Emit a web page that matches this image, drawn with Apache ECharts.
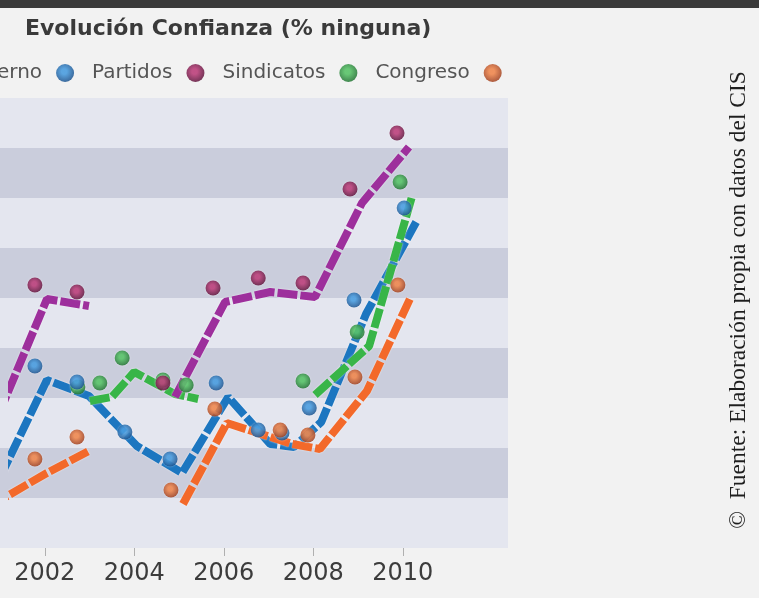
<!DOCTYPE html>
<html><head><meta charset="utf-8">
<script src="https://cdn.jsdelivr.net/npm/echarts@6/dist/echarts.min.js"></script>
<style>html,body{margin:0;padding:0;background:#f2f2f2}#c{width:759px;height:598px}</style>
</head><body><div id="c"></div>
<script>
const seriesNames = ['Gobierno', 'Partidos', 'Sindicatos', 'Congreso'];
const gobierno = [[2000.51, 6.4], [2001.78, 18.2], [2002.72, 16.6], [2003.79, 11.6], [2004.80, 8.9], [2005.83, 16.5], [2006.77, 11.8], [2007.30, 11.5], [2007.91, 14.0], [2008.91, 24.8], [2010.03, 34.0]];
const partidos = [[2000.51, 12.7], [2001.78, 26.3], [2002.72, 25.6], [2003.70, null], [2004.64, 16.5], [2005.76, 26.0], [2006.77, 27.0], [2007.77, 26.5], [2008.82, 35.9], [2009.87, 41.5]];
const sindicatos = [[2002.74, 16.1], [2003.23, 16.5], [2003.73, 19.0], [2004.64, 16.8], [2005.16, 16.3], [2006.50, null], [2007.77, 16.7], [2008.98, 21.6], [2009.94, 36.6]];
const congreso = [[2000.51, 5.6], [2001.78, 8.9], [2002.72, 11.1], [2003.70, null], [2004.82, 5.8], [2005.80, 13.9], [2007.26, 11.8], [2007.88, 11.3], [2008.93, 17.1], [2009.89, 26.3]];
const yearTicks = [2002, 2004, 2006, 2008, 2010];
const titleText = 'Evolución Confianza (% ninguna)';
const sourceText = '©  Fuente: Elaboración propia con datos del CIS';

const allData = [gobierno, partidos, sindicatos, congreso];
const lineColors = ['#1c76c0', '#9d2f9c', '#38b548', '#f3692a'];
const markInner = ['#3592dc', '#b52a6c', '#46bd57', '#ee7a3a'];
const markOuter = ['#0c4584', '#52042e', '#126824', '#973210'];
const markerZ = [12, 11, 10, 13];
const xMin = 2001, xMax = 2012.35, yMin = 0, yMax = 45;

function radial(i) {
  return { type: 'radial', x: 0.45, y: 0.42, r: 0.6,
    colorStops: [{ offset: 0, color: markInner[i] }, { offset: 0.25, color: markInner[i] }, { offset: 1, color: markOuter[i] }] };
}

const series = [];
allData.forEach((d, i) => {
  series.push({
    name: seriesNames[i], type: 'scatter', xAxisIndex: 0, yAxisIndex: 0,
    data: d.filter(p => p[1] !== null), symbol: 'circle', symbolSize: 15, z: markerZ[i],
    itemStyle: { color: radial(i), shadowColor: 'rgba(255,255,255,0.6)', shadowBlur: 2 }
  });
});
const lineOrder = [0, 3, 2, 1];
lineOrder.forEach(i => {
  series.push({
    name: seriesNames[i], type: 'line', xAxisIndex: 1, yAxisIndex: 1, clip: false,
    data: allData[i].map(p => [p[0], p[1] === null ? '-' : p[1]]),
    symbol: 'none', showSymbol: false, connectNulls: false, z: 3,
    lineStyle: { color: lineColors[i], width: 8, type: [20, 3], cap: 'butt',
      shadowColor: 'rgba(255,255,255,0.7)', shadowBlur: 2 }
  });
});

const chart = echarts.init(document.getElementById('c'), null, { renderer: 'canvas' });
chart.setOption({
  animation: false,
  backgroundColor: '#f2f2f2',
  title: { text: titleText, left: 25, top: 18, padding: 0,
    textStyle: { fontFamily: 'DejaVu Sans', fontSize: 22, fontWeight: 'bold', color: '#3a3a3a' } },
  legend: { data: seriesNames, left: -49, top: 63, align: 'right', icon: 'circle',
    itemWidth: 18, itemHeight: 18, itemGap: 18, padding: 0,
    textStyle: { fontFamily: 'DejaVu Sans', fontSize: 20, color: '#555', padding: [0, 9, 0, 0] } },
  grid: [
    { left: 0, top: 98, width: 508, height: 450 },
    { left: 12, top: 112, width: 508, height: 450 }
  ],
  xAxis: [
    { type: 'value', gridIndex: 0, min: xMin, max: xMax,
      axisLine: { show: false }, splitLine: { show: false },
      axisTick: { show: true, customValues: yearTicks, length: 8, lineStyle: { color: '#b0b0b0' } },
      axisLabel: { customValues: yearTicks, formatter: v => String(v), fontFamily: 'DejaVu Sans', fontSize: 24, color: '#3c3c3c', margin: 14 } },
    { type: 'value', gridIndex: 1, min: xMin, max: xMax, show: false }
  ],
  yAxis: [
    { type: 'value', gridIndex: 0, min: yMin, max: yMax, interval: 5,
      axisLine: { show: false }, axisTick: { show: false }, axisLabel: { show: false },
      splitLine: { show: false },
      splitArea: { show: true, areaStyle: { color: ['#e4e6ef', '#cacddc'] } } },
    { type: 'value', gridIndex: 1, min: yMin, max: yMax, show: false }
  ],
  graphic: [
    { type: 'rect', shape: { x: 0, y: 0, width: 759, height: 8 }, style: { fill: '#3a3a3a' }, silent: true },
    { type: 'text', x: 739, y: 300, rotation: Math.PI / 2, silent: true,
      style: { text: sourceText, font: '23.5px "Liberation Serif"', fill: '#1e1e1e', align: 'center', verticalAlign: 'middle' } }
  ],
  series: series
});
</script></body></html>
